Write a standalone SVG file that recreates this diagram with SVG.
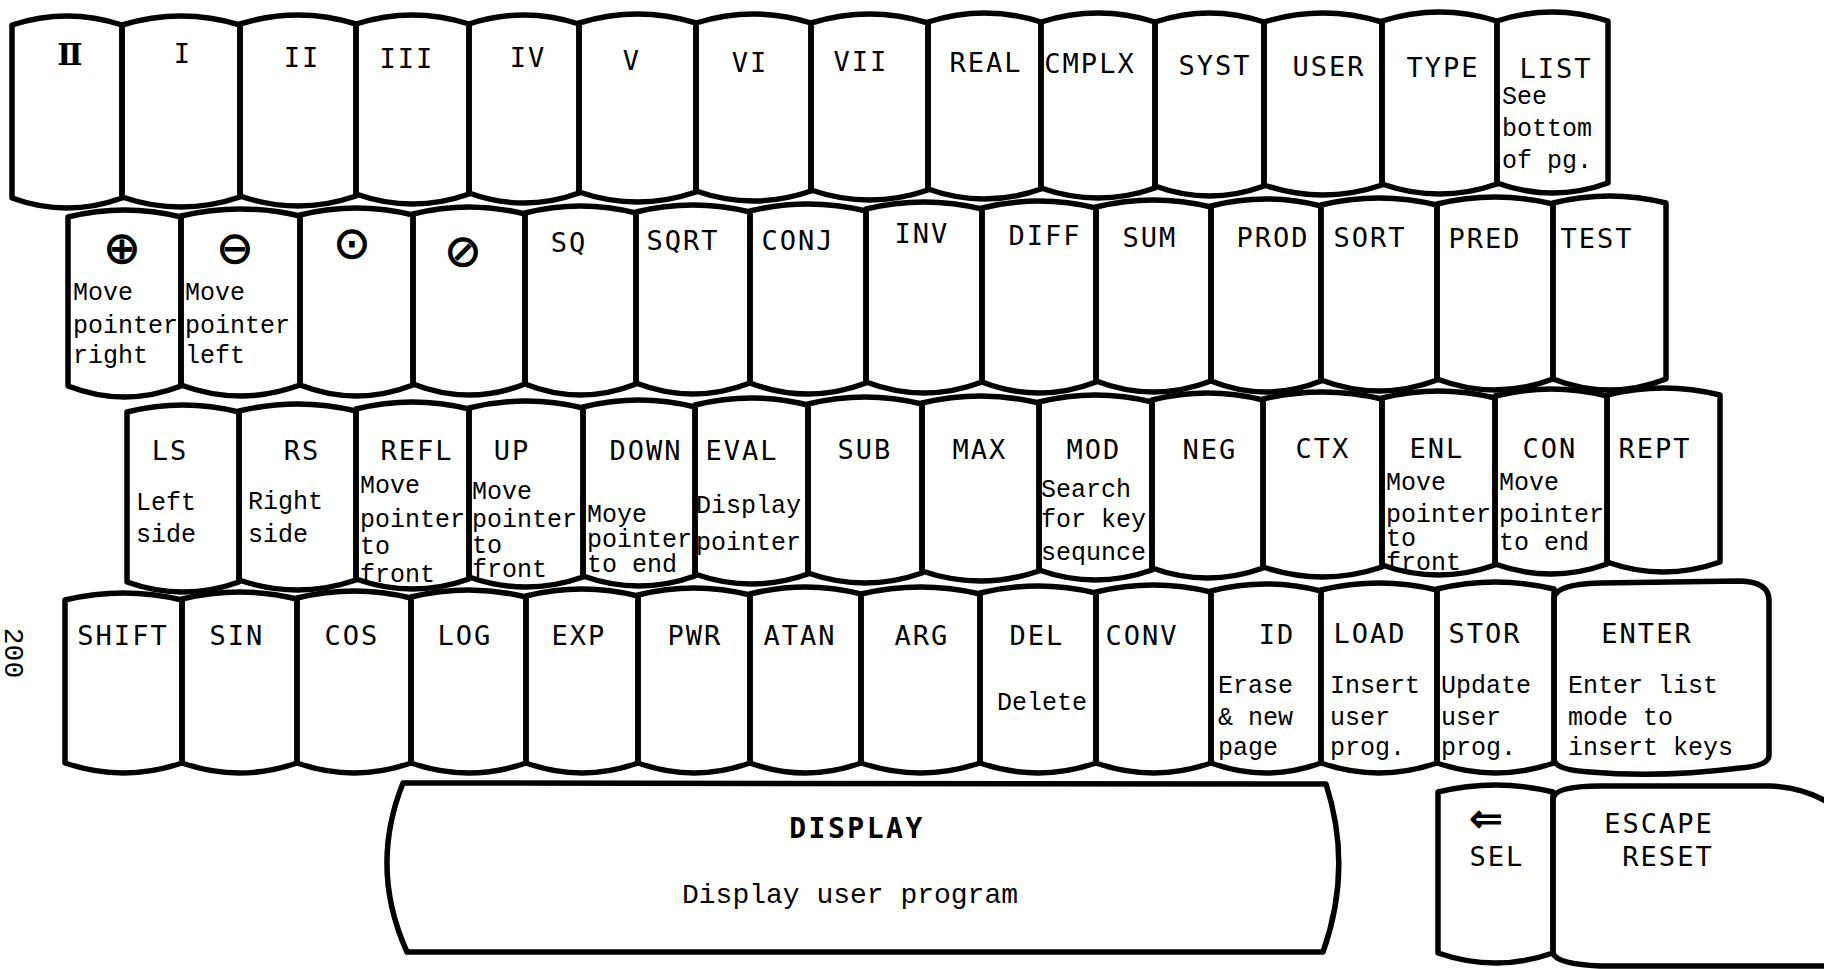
<svg xmlns="http://www.w3.org/2000/svg" width="1824" height="969" viewBox="0 0 1824 969">
<style>
.key{fill:none;stroke:#000;stroke-width:5.5;stroke-linejoin:round}
.k{font-family:"DejaVu Sans Mono",monospace;font-size:27px;letter-spacing:2px;text-anchor:middle;fill:#000}
.d{font-family:"Liberation Mono",monospace;font-size:25px;fill:#000}
.s{font-family:"DejaVu Sans",sans-serif;font-size:44px;text-anchor:middle;dominant-baseline:central;fill:#000;stroke:#000;stroke-width:1}
</style>
<rect width="1824" height="969" fill="#fff"/>
<g id="connectors"/>
<text id="page-number" x="0" y="0" transform="translate(12,653) rotate(90)" text-anchor="middle" dominant-baseline="central" font-family="Liberation Mono, monospace" font-size="28">200</text>

<!-- Row 1 -->
<g id="key-0"><path class="key" d="M12 25Q67 7 122 25L122 198Q67 218 12 198Z"/><text x="70" y="65" text-anchor="middle" font-family="DejaVu Serif, serif" font-weight="bold" font-size="30">Ⅱ</text></g>
<g id="key-I"><path class="key" d="M122 25Q181 7 240 25L240 197Q181 217 122 197Z"/><text class="k" x="183" y="63">I</text></g>
<g id="key-II"><path class="key" d="M240 24Q298 6 356 24L356 196Q298 216 240 196Z"/><text class="k" x="302" y="67">II</text></g>
<g id="key-III"><path class="key" d="M356 24Q412.5 6 469 24L469 194Q412.5 214 356 194Z"/><text class="k" x="407" y="68">III</text></g>
<g id="key-IV"><path class="key" d="M469 24Q524 6 579 24L579 193Q524 213 469 193Z"/><text class="k" x="528" y="67">IV</text></g>
<g id="key-V"><path class="key" d="M579 23Q637.5 5 696 23L696 192Q637.5 212 579 192Z"/><text class="k" x="632" y="70">V</text></g>
<g id="key-VI"><path class="key" d="M696 23Q753.5 5 811 23L811 191Q753.5 211 696 191Z"/><text class="k" x="750" y="72">VI</text></g>
<g id="key-VII"><path class="key" d="M811 23Q869.5 5 928 23L928 190Q869.5 210 811 190Z"/><text class="k" x="861" y="71">VII</text></g>
<g id="key-REAL"><path class="key" d="M928 22Q984.5 4 1041 22L1041 189Q984.5 209 928 189Z"/><text class="k" x="986" y="72">REAL</text></g>
<g id="key-CMPLX"><path class="key" d="M1041 22Q1098 4 1155 22L1155 188Q1098 208 1041 188Z"/><text class="k" x="1090" y="73">CMPLX</text></g>
<g id="key-SYST"><path class="key" d="M1155 22Q1209.5 4 1264 22L1264 186Q1209.5 206 1155 186Z"/><text class="k" x="1215" y="75">SYST</text></g>
<g id="key-USER"><path class="key" d="M1264 22Q1323 4 1382 22L1382 185Q1323 205 1264 185Z"/><text class="k" x="1329" y="76">USER</text></g>
<g id="key-TYPE"><path class="key" d="M1382 21Q1439.5 3 1497 21L1497 184Q1439.5 204 1382 184Z"/><text class="k" x="1443" y="77">TYPE</text></g>
<g id="key-LIST"><path class="key" d="M1497 21Q1552.5 3 1608 21L1608 183Q1552.5 203 1497 183Z"/><text class="k" x="1556" y="78">LIST</text><text class="d" x="1502" y="104">See</text><text class="d" x="1502" y="136">bottom</text><text class="d" x="1502" y="168">of pg.</text></g>

<!-- Row 2 -->
<g id="key-plus"><path class="key" d="M68 217Q124.5 203 181 217L181 386Q124.5 408 68 386Z"/><text class="s" x="122" y="247">⊕</text><text class="d" x="73" y="300">Move</text><text class="d" x="73" y="333">pointer</text><text class="d" x="73" y="363">right</text></g>
<g id="key-minus"><path class="key" d="M181 216Q240.5 202 300 216L300 385Q240.5 407 181 385Z"/><text class="s" x="235" y="247">⊖</text><text class="d" x="185" y="300">Move</text><text class="d" x="185" y="333">pointer</text><text class="d" x="185" y="363">left</text></g>
<g id="key-dot"><path class="key" d="M300 215Q356.5 201 413 215L413 385Q356.5 407 300 385Z"/><text class="s" x="352" y="242">⊙</text></g>
<g id="key-slash"><path class="key" d="M413 214Q469 200 525 214L525 384Q469 406 413 384Z"/><text class="s" x="463" y="250">⊘</text></g>
<g id="key-SQ"><path class="key" d="M525 213Q580.5 199 636 213L636 384Q580.5 406 525 384Z"/><text class="k" x="569" y="252">SQ</text></g>
<g id="key-SQRT"><path class="key" d="M636 212Q693 198 750 212L750 383Q693 405 636 383Z"/><text class="k" x="683" y="250">SQRT</text></g>
<g id="key-CONJ"><path class="key" d="M750 211Q808 197 866 211L866 383Q808 405 750 383Z"/><text class="k" x="798" y="250">CONJ</text></g>
<g id="key-INV"><path class="key" d="M866 209Q924 195 982 209L982 382Q924 404 866 382Z"/><text class="k" x="922" y="243">INV</text></g>
<g id="key-DIFF"><path class="key" d="M982 208Q1039 194 1096 208L1096 382Q1039 404 982 382Z"/><text class="k" x="1045" y="245">DIFF</text></g>
<g id="key-SUM"><path class="key" d="M1096 207Q1153.5 193 1211 207L1211 381Q1153.5 403 1096 381Z"/><text class="k" x="1150" y="247">SUM</text></g>
<g id="key-PROD"><path class="key" d="M1211 206Q1266 192 1321 206L1321 381Q1266 403 1211 381Z"/><text class="k" x="1273" y="247">PROD</text></g>
<g id="key-SORT"><path class="key" d="M1321 205Q1379 191 1437 205L1437 380Q1379 402 1321 380Z"/><text class="k" x="1370" y="247">SORT</text></g>
<g id="key-PRED"><path class="key" d="M1437 204Q1495 190 1553 204L1553 379Q1495 401 1437 379Z"/><text class="k" x="1485" y="248">PRED</text></g>
<g id="key-TEST"><path class="key" d="M1553 203Q1609.5 189 1666 203L1666 379Q1609.5 401 1553 379Z"/><text class="k" x="1597" y="248">TEST</text></g>

<!-- Row 3 -->
<g id="key-LS"><path class="key" d="M127 412Q183 398 239 412L239 582Q183 602 127 582Z"/><text class="k" x="170" y="460">LS</text><text class="d" x="136" y="510">Left</text><text class="d" x="136" y="542">side</text></g>
<g id="key-RS"><path class="key" d="M239 411Q297.5 397 356 411L356 580Q297.5 600 239 580Z"/><text class="k" x="302" y="460">RS</text><text class="d" x="248" y="509">Right</text><text class="d" x="248" y="542">side</text></g>
<g id="key-REFL"><path class="key" d="M356 409Q412.5 395 469 409L469 579Q412.5 599 356 579Z"/><text class="k" x="417" y="460">REFL</text><text class="d" x="360" y="493">Move</text><text class="d" x="360" y="527">pointer</text><text class="d" x="360" y="554">to</text><text class="d" x="360" y="582">front</text></g>
<g id="key-UP"><path class="key" d="M469 408Q526 394 583 408L583 577Q526 597 469 577Z"/><text class="k" x="512" y="460">UP</text><text class="d" x="472" y="499">Move</text><text class="d" x="472" y="527">pointer</text><text class="d" x="472" y="553">to</text><text class="d" x="472" y="577">front</text></g>
<g id="key-DOWN"><path class="key" d="M583 407Q639 393 695 407L695 576Q639 596 583 576Z"/><text class="k" x="646" y="460">DOWN</text><text class="d" x="587" y="522">Moye</text><text class="d" x="587" y="547">pointer</text><text class="d" x="587" y="572">to end</text></g>
<g id="key-EVAL"><path class="key" d="M695 405Q751.5 391 808 405L808 574Q751.5 594 695 574Z"/><text class="k" x="742" y="460">EVAL</text><text class="d" x="696" y="513">Display</text><text class="d" x="696" y="550">pointer</text></g>
<g id="key-SUB"><path class="key" d="M808 404Q865 390 922 404L922 573Q865 593 808 573Z"/><text class="k" x="865" y="459">SUB</text></g>
<g id="key-MAX"><path class="key" d="M922 403Q980.5 389 1039 403L1039 571Q980.5 591 922 571Z"/><text class="k" x="980" y="459">MAX</text></g>
<g id="key-MOD"><path class="key" d="M1039 402Q1095.5 388 1152 402L1152 570Q1095.5 590 1039 570Z"/><text class="k" x="1094" y="459">MOD</text><text class="d" x="1041" y="497">Search</text><text class="d" x="1041" y="527">for key</text><text class="d" x="1041" y="560">sequnce</text></g>
<g id="key-NEG"><path class="key" d="M1152 400Q1207.5 386 1263 400L1263 568Q1207.5 588 1152 568Z"/><text class="k" x="1210" y="459">NEG</text></g>
<g id="key-CTX"><path class="key" d="M1263 399Q1322.5 385 1382 399L1382 567Q1322.5 587 1263 567Z"/><text class="k" x="1323" y="458">CTX</text></g>
<g id="key-ENL"><path class="key" d="M1382 398Q1438.5 384 1495 398L1495 565Q1438.5 585 1382 565Z"/><text class="k" x="1437" y="458">ENL</text><text class="d" x="1386" y="490">Move</text><text class="d" x="1386" y="522">pointer</text><text class="d" x="1386" y="546">to</text><text class="d" x="1386" y="570">front</text></g>
<g id="key-CON"><path class="key" d="M1495 396Q1551 382 1607 396L1607 564Q1551 584 1495 564Z"/><text class="k" x="1550" y="458">CON</text><text class="d" x="1499" y="490">Move</text><text class="d" x="1499" y="522">pointer</text><text class="d" x="1499" y="550">to end</text></g>
<g id="key-REPT"><path class="key" d="M1607 395Q1663.5 381 1720 395L1720 562Q1663.5 582 1607 562Z"/><text class="k" x="1655" y="458">REPT</text></g>

<!-- Row 4 -->
<g id="key-SHIFT"><path class="key" d="M65 600Q123.5 586 182 600L182 763Q123.5 783 65 763Z"/><text class="k" x="123" y="645">SHIFT</text></g>
<g id="key-SIN"><path class="key" d="M182 599Q239.5 585 297 599L297 763Q239.5 783 182 763Z"/><text class="k" x="237" y="645">SIN</text></g>
<g id="key-COS"><path class="key" d="M297 598Q354 584 411 598L411 763Q354 783 297 763Z"/><text class="k" x="352" y="645">COS</text></g>
<g id="key-LOG"><path class="key" d="M411 597Q468.5 583 526 597L526 763Q468.5 783 411 763Z"/><text class="k" x="465" y="645">LOG</text></g>
<g id="key-EXP"><path class="key" d="M526 596Q582 582 638 596L638 763Q582 783 526 763Z"/><text class="k" x="579" y="645">EXP</text></g>
<g id="key-PWR"><path class="key" d="M638 595Q694 581 750 595L750 763Q694 783 638 763Z"/><text class="k" x="695" y="645">PWR</text></g>
<g id="key-ATAN"><path class="key" d="M750 594Q805.5 580 861 594L861 763Q805.5 783 750 763Z"/><text class="k" x="800" y="645">ATAN</text></g>
<g id="key-ARG"><path class="key" d="M861 594Q920.5 580 980 594L980 763Q920.5 783 861 763Z"/><text class="k" x="922" y="645">ARG</text></g>
<g id="key-DEL"><path class="key" d="M980 593Q1038 579 1096 593L1096 763Q1038 783 980 763Z"/><text class="k" x="1037" y="645">DEL</text><text class="d" x="1042" y="710" text-anchor="middle">Delete</text></g>
<g id="key-CONV"><path class="key" d="M1096 592Q1153.5 578 1211 592L1211 763Q1153.5 783 1096 763Z"/><text class="k" x="1142" y="645">CONV</text></g>
<g id="key-ID"><path class="key" d="M1211 591Q1266 577 1321 591L1321 763Q1266 783 1211 763Z"/><text class="k" x="1277" y="644">ID</text><text class="d" x="1218" y="693">Erase</text><text class="d" x="1218" y="725">&amp; new</text><text class="d" x="1218" y="755">page</text></g>
<g id="key-LOAD"><path class="key" d="M1321 590Q1379 576 1437 590L1437 763Q1379 783 1321 763Z"/><text class="k" x="1370" y="643">LOAD</text><text class="d" x="1330" y="693">Insert</text><text class="d" x="1330" y="725">user</text><text class="d" x="1330" y="755">prog.</text></g>
<g id="key-STOR"><path class="key" d="M1437 589Q1495.5 575 1554 589L1554 763Q1495.5 783 1437 763Z"/><text class="k" x="1485" y="643">STOR</text><text class="d" x="1441" y="693">Update</text><text class="d" x="1441" y="725">user</text><text class="d" x="1441" y="755">prog.</text></g>
<g id="key-ENTER"><path class="key" d="M1554 598Q1556 584 1600 583L1740 581Q1769 582 1769 600L1769 755Q1769 766 1740 768Q1660 778 1590 772Q1556 770 1554 760Z"/><text class="k" x="1647" y="643">ENTER</text><text class="d" x="1568" y="693">Enter list</text><text class="d" x="1568" y="725">mode to</text><text class="d" x="1568" y="755">insert keys</text></g>

<!-- Row 5 -->
<g id="key-DISPLAY"><path class="key" d="M403 783L1326 784Q1353 868 1323 952L407 952Q369 868 403 783Z"/><text x="857" y="838" text-anchor="middle" font-family="DejaVu Sans Mono, monospace" font-weight="bold" font-size="28" letter-spacing="2.5">DISPLAY</text><text class="d" x="850" y="903" text-anchor="middle" style="font-size:28px">Display user program</text></g>
<g id="key-SEL"><path class="key" d="M1438 792Q1495.5 778 1553 792L1553 953Q1495.5 973 1438 953Z"/><text x="1486" y="818" text-anchor="middle" dominant-baseline="central" font-family="DejaVu Sans, sans-serif" font-size="40" stroke="#000" stroke-width="1">⇐</text><text class="k" x="1497" y="866">SEL</text></g>
<g id="key-ESCAPE"><path class="key" d="M1553 798Q1556 786 1600 786L1770 786Q1815 788 1845 815L1845 966L1600 966Q1556 964 1553 953Z"/><text class="k" x="1659" y="833">ESCAPE</text><text class="k" x="1668" y="866">RESET</text></g>
</svg>
